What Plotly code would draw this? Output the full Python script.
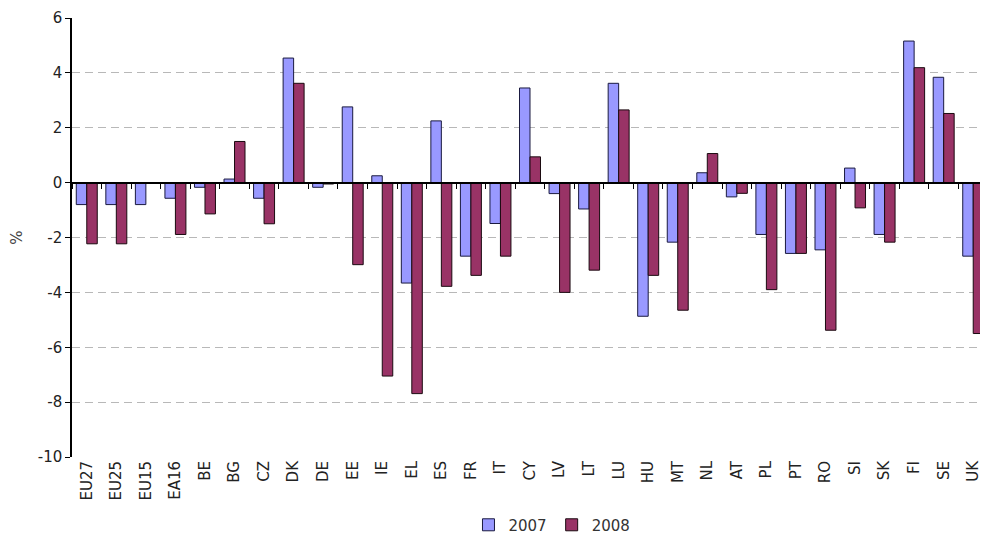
import plotly.graph_objects as go

categories = ["EU27", "EU25", "EU15", "EA16", "BE", "BG", "CZ", "DK", "DE", "EE",
              "IE", "EL", "ES", "FR", "IT", "CY", "LV", "LT", "LU", "HU",
              "MT", "NL", "AT", "PL", "PT", "RO", "SI", "SK", "FI", "SE", "UK"]

values_2007 = [-0.8, -0.8, -0.8, -0.57, -0.17, 0.13, -0.57, 4.54, -0.17, 2.76,
               0.25, -3.66, 2.25, -2.68, -1.49, 3.45, -0.4, -0.96, 3.62, -4.87,
               -2.17, 0.36, -0.52, -1.89, -2.58, -2.45, 0.53, -1.89, 5.16, 3.84, -2.68]

values_2008 = [-2.23, -2.23, None, -1.89, -1.14, 1.5, -1.5, 3.62, -0.05, -2.99,
               -7.05, -7.69, -3.78, -3.38, -2.68, 0.94, -4.0, -3.19, 2.65, -3.38,
               -4.65, 1.06, -0.39, -3.9, -2.58, -5.38, -0.92, -2.17, 4.19, 2.52, -5.5]

y_ticks = [-10, -8, -6, -4, -2, 0, 2, 4, 6]
y_tick_labels = ["-10", "-8", "-6", "-4", "-2", "0", "2", "4", "6"]

FONT = "DejaVu Sans"

fig = go.Figure()
fig.add_trace(go.Bar(name="2007", x=categories, y=values_2007,
                     marker=dict(color="#9999FF", line=dict(color="#1a1a40", width=1))))
fig.add_trace(go.Bar(name="2008", x=categories, y=values_2008,
                     marker=dict(color="#993366", line=dict(color="#1a0a10", width=1))))
# invisible helper trace so the zero-line axis (with its ticks) is drawn
fig.add_trace(go.Scatter(x=categories, y=values_2007, xaxis="x2", mode="markers",
                         marker=dict(opacity=0), hoverinfo="skip", showlegend=False))

fig.update_layout(
    width=980, height=526,
    margin=dict(l=64, r=0, t=10, b=77, autoexpand=False),
    paper_bgcolor="white", plot_bgcolor="white",
    barmode="group", bargap=0.29, bargroupgap=0,
    font=dict(family=FONT, color="#222"),
    showlegend=True,
    legend=dict(orientation="h", x=0.524, xanchor="center", y=-0.155, yanchor="middle",
                font=dict(size=15, color="#333"), itemwidth=30, traceorder="normal"),
    xaxis=dict(type="category", categoryorder="array", categoryarray=categories,
               range=[-0.5, 30.5], showgrid=False, showline=False, zeroline=False,
               ticks="", tickangle=-90, tickfont=dict(size=15, color="#222"),
               automargin=False),
    xaxis2=dict(type="category", categoryorder="array", categoryarray=categories,
                range=[-0.5, 30.5], overlaying="x", anchor="free", position=0.625,
                side="bottom", showline=True, linecolor="black", linewidth=1.5,
                ticks="outside", tickson="boundaries", ticklen=6, tickcolor="black",
                tickwidth=1.2, showticklabels=False, showgrid=False, zeroline=False),
    yaxis=dict(range=[-10, 6], tickvals=y_ticks, ticktext=y_tick_labels,
               showgrid=True, gridcolor="#b8b8b8",
               griddash="8px,5px", gridwidth=1, zeroline=False,
               showline=True, linecolor="black", linewidth=1.5,
               ticks="outside", ticklen=5, tickcolor="black",
               tickfont=dict(size=15, color="#222"), automargin=False,
               title=dict(text="%", font=dict(size=15, color="#444"), standoff=20)),
)

fig.write_html("out.html")
